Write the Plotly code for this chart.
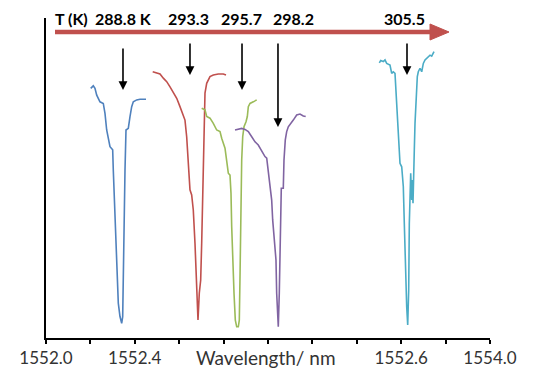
import plotly.graph_objects as go

# ---- data (wavelength in tick units, normalized transmission) ----
x_288 = [1.051, 1.110, 1.149, 1.189, 1.264, 1.340, 1.379, 1.418, 1.494, 1.556, 1.570, 1.609, 1.648, 1.685, 1.724, 1.763,
         1.786, 1.800, 1.816, 1.839, 1.862, 1.915, 1.954, 1.993, 2.030, 2.108, 2.184, 2.322]
y_288 = [0.780, 0.788, 0.780, 0.759, 0.738, 0.733, 0.702, 0.650, 0.598, 0.588, 0.525, 0.369, 0.213, 0.109, 0.067, 0.046,
         0.067, 0.213, 0.369, 0.525, 0.650, 0.655, 0.692, 0.723, 0.738, 0.744, 0.746, 0.746]

x_293 = [2.476, 2.568, 2.644, 2.720, 2.798, 2.874, 2.949, 3.028, 3.103, 3.179, 3.218, 3.257, 3.294, 3.333, 3.372, 3.409,
         3.448, 3.471, 3.501, 3.517, 3.547, 3.579, 3.602, 3.625, 3.639, 3.655, 3.678, 3.717, 3.793, 3.869, 3.984, 4.099, 4.161]
y_293 = [0.832, 0.827, 0.825, 0.812, 0.801, 0.785, 0.765, 0.749, 0.723, 0.697, 0.681, 0.629, 0.556, 0.463, 0.447, 0.400,
         0.296, 0.192, 0.098, 0.056, 0.140, 0.181, 0.296, 0.452, 0.608, 0.713, 0.765, 0.796, 0.817, 0.822, 0.825, 0.825, 0.822]

x_295 = [3.602, 3.678, 3.717, 3.793, 3.869, 3.947, 4.023, 4.062, 4.138, 4.177, 4.214, 4.253, 4.276, 4.292, 4.315, 4.345,
         4.375, 4.407, 4.444, 4.467, 4.483, 4.499, 4.522, 4.545, 4.575, 4.621, 4.651, 4.674, 4.713, 4.789, 4.867]
y_295 = [0.718, 0.713, 0.692, 0.687, 0.671, 0.650, 0.645, 0.624, 0.593, 0.556, 0.515, 0.509, 0.452, 0.348, 0.244, 0.140,
         0.056, 0.035, 0.035, 0.056, 0.192, 0.400, 0.556, 0.629, 0.660, 0.676, 0.692, 0.723, 0.733, 0.738, 0.744]

x_298 = [4.368, 4.444, 4.522, 4.598, 4.674, 4.752, 4.828, 4.903, 4.982, 5.057, 5.097, 5.133, 5.172, 5.211, 5.234, 5.264,
         5.295, 5.310, 5.326, 5.349, 5.363, 5.386, 5.402, 5.418, 5.432, 5.478, 5.494, 5.524, 5.556, 5.593, 5.632, 5.708,
         5.786, 5.862, 5.938, 5.993]
y_298 = [0.650, 0.652, 0.655, 0.652, 0.645, 0.629, 0.613, 0.603, 0.582, 0.567, 0.562, 0.525, 0.473, 0.431, 0.369, 0.306,
         0.275, 0.244, 0.140, 0.056, 0.035, 0.140, 0.296, 0.452, 0.468, 0.468, 0.556, 0.619, 0.645, 0.660, 0.666, 0.681,
         0.697, 0.700, 0.694, 0.692]

x_305 = [7.686, 7.717, 7.777, 7.816, 7.855, 7.931, 7.970, 8.007, 8.046, 8.085, 8.122, 8.161, 8.200, 8.237, 8.260, 8.283,
         8.315, 8.338, 8.361, 8.375, 8.391, 8.407, 8.430, 8.444, 8.460, 8.476, 8.490, 8.506, 8.529, 8.559, 8.582, 8.621,
         8.660, 8.697, 8.736, 8.775, 8.811, 8.851, 8.890, 8.926, 8.943]
y_305 = [0.860, 0.867, 0.864, 0.869, 0.858, 0.853, 0.827, 0.832, 0.827, 0.744, 0.640, 0.546, 0.535, 0.473, 0.358, 0.202,
         0.098, 0.041, 0.150, 0.358, 0.442, 0.515, 0.431, 0.494, 0.421, 0.483, 0.588, 0.671, 0.744, 0.817, 0.832, 0.843,
         0.832, 0.858, 0.869, 0.874, 0.880, 0.884, 0.881, 0.890, 0.895]

temp_labels = ["288.8 K", "293.3", "295.7", "298.2", "305.5"]
x_range = [0.023, 10.23]
tick_vals = [0.023, 1.044, 2.064, 3.085, 4.106, 5.126, 6.147, 7.168, 8.189, 9.209, 10.23]
tick_text = ["1552.0", "", "1552.4", "", "", "", "", "", "1552.6", "", "1554.0"]
# arrow tips (data coords) pointing at each dip
arrow_x = [1.793, 3.333, 4.529, 5.356, 8.322]
arrow_y = [0.775, 0.822, 0.775, 0.659, 0.822]

series = [(x_288, y_288, "#4F81BD"), (x_293, y_293, "#C0504D"), (x_295, y_295, "#9BBB59"),
          (x_298, y_298, "#8064A2"), (x_305, y_305, "#4BACC6")]

fig = go.Figure()
for xs, ys, c in series:
    fig.add_trace(go.Scatter(x=xs, y=ys, mode="lines", line=dict(color=c, width=1.6), showlegend=False))

OFF = 8  # page body margin offset
L, T, PW, PH = 46 - OFF, 18 - OFF, 444, 320
def px(xp):
    return (xp - OFF - L) / PW
def py(yp):
    return (T + PH - (yp - OFF)) / PH

FONT = "Lato"
annotations = []
annotations.append(dict(text="<b>T (K)</b>", xref="paper", yref="paper", x=px(71), y=py(18),
                        xanchor="center", yanchor="middle",
                        showarrow=False, font=dict(size=16, color="black", family=FONT)))
label_px = [123.5, 188.5, 241.5, 293.5, 404]
for t, lx in zip(temp_labels, label_px):
    annotations.append(dict(text="<b>%s</b>" % t, xref="paper", yref="paper", x=px(lx), y=py(18),
                            xanchor="center", yanchor="middle",
                            showarrow=False, font=dict(size=16, color="black", family=FONT)))
for ax_, ay_, tail in zip(arrow_x, arrow_y, [-43, -33, -48, -85, -33]):
    annotations.append(dict(x=ax_, y=ay_, xref="x", yref="y", ax=0, ay=tail, text="",
                            showarrow=True, arrowhead=2, arrowsize=1.1, arrowwidth=1.6, arrowcolor="black"))
annotations.append(dict(text="Wavelength/ nm", xref="paper", yref="paper", x=px(266), y=py(357),
                        xanchor="center", yanchor="middle",
                        showarrow=False, font=dict(size=19, color="#333", family=FONT)))

shapes = [
    dict(type="line", xref="paper", yref="paper", x0=px(55), x1=px(436), y0=py(32), y1=py(32),
         line=dict(color="#C0504D", width=4.5)),
    dict(type="path", xref="paper", yref="paper",
         path="M %f %f L %f %f L %f %f Z" % (px(430), py(24), px(449), py(32), px(430), py(40)),
         fillcolor="#C0504D", line=dict(color="#C0504D", width=1)),
]

W, H = 533, 370
fig.update_layout(
    width=W, height=H,
    margin=dict(l=L, r=W - L - PW, t=T, b=H - T - PH),
    paper_bgcolor="white", plot_bgcolor="white",
    showlegend=False,
    annotations=annotations, shapes=shapes,
    xaxis=dict(range=x_range, tickvals=tick_vals, ticktext=tick_text, ticks="outside", ticklen=4,
               tickwidth=1.5, tickcolor="black", showline=True, linecolor="black", linewidth=2,
               showgrid=False, zeroline=False, tickfont=dict(size=17, color="#333", family=FONT)),
    yaxis=dict(range=[0, 1], showline=True, linecolor="black", linewidth=2, showgrid=False,
               zeroline=False, showticklabels=False, ticks=""),
)

fig.write_html("out.html")
